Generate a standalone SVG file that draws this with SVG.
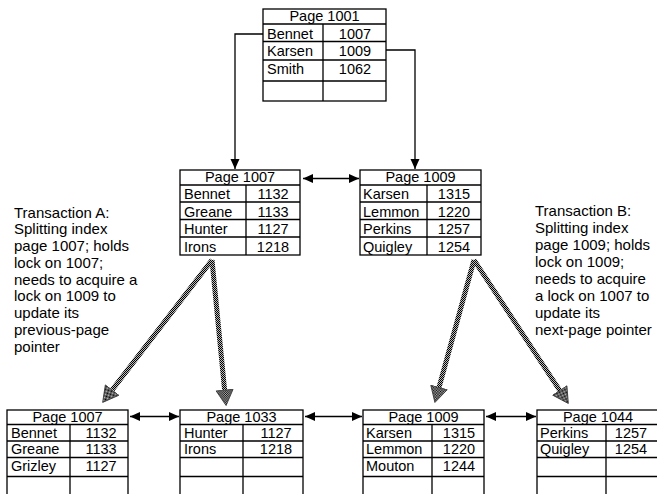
<svg xmlns="http://www.w3.org/2000/svg" width="657" height="494" viewBox="0 0 657 494">
<style>
.t{font-family:"Liberation Sans",Arial,sans-serif;font-size:14.5px;fill:#000}
.c{text-anchor:middle}
.n{font-family:"Liberation Sans",Arial,sans-serif;font-size:15px;fill:#000}
.box{fill:#fff;stroke:#000;stroke-width:1.3}
.ln{stroke:#000;stroke-width:1.3;fill:none}
.thin{stroke:#000;stroke-width:1.3;fill:none;marker-end:url(#ah)}
.dbl{stroke:#000;stroke-width:1.3;fill:none;marker-start:url(#ah);marker-end:url(#ah)}
.fat{stroke:url(#hatch);stroke-width:5;fill:none;marker-end:url(#fh)}
</style>
<defs>
<pattern id="hatch" width="2" height="2" patternUnits="userSpaceOnUse">
<rect width="2" height="2" fill="#bbb"/>
<rect width="1" height="1" fill="#000"/>
<rect x="1" y="1" width="1" height="1" fill="#000"/>
</pattern>
<marker id="ah" markerUnits="userSpaceOnUse" markerWidth="13" markerHeight="11" viewBox="0 -5.5 11 11" refX="10" refY="0" orient="auto-start-reverse">
<path d="M0,-4.5 L10,0 L0,4.5 Z" fill="#000"/>
</marker>
<marker id="fh" markerUnits="userSpaceOnUse" markerWidth="18" markerHeight="20" viewBox="0 -10 17 20" refX="0" refY="0" orient="auto">
<path d="M0,-8.5 L15.5,0 L0,8.5 Z" fill="url(#hatch)" stroke="#333" stroke-width="0.8"/>
</marker>
</defs>
<rect width="657" height="494" fill="#fff"/>

<g id="connectors">
<path class="thin" d="M263,34 H235 V169"/>
<path class="thin" d="M386,50 H415 V169"/>
<path class="dbl" d="M303,178.5 H359"/>
<path class="dbl" d="M130,416.5 H179"/>
<path class="dbl" d="M305,416.5 H362"/>
<path class="dbl" d="M486,416.5 H536"/>
<path class="fat" d="M212,260 L112.1,390.1"/>
<path class="fat" d="M212,260 L224.6,390.1"/>
<path class="fat" d="M474,260 L439,387.5"/>
<path class="fat" d="M474,260 L559.8,390.5"/>
</g>

<g id="page1001">
<rect class="box" x="263" y="9" width="123" height="92"/>
<path class="ln" d="M263,24 H386 M263,41.5 H386 M263,60 H386 M263,81 H386 M323,24 V101"/>
<text class="t c" x="324.5" y="21">Page 1001</text>
<text class="t" x="267" y="38.5">Bennet</text><text class="t c" x="355" y="38.5">1007</text>
<text class="t" x="267" y="56">Karsen</text><text class="t c" x="355" y="56">1009</text>
<text class="t" x="267" y="73.5">Smith</text><text class="t c" x="355" y="73.5">1062</text>
</g>

<g id="page1007-mid">
<rect class="box" x="180" y="170" width="120" height="85"/>
<path class="ln" d="M180,185 H300 M180,202 H300 M180,219.5 H300 M180,237 H300 M246,185 V255"/>
<text class="t c" x="240" y="182">Page 1007</text>
<text class="t" x="184" y="199">Bennet</text><text class="t c" x="273" y="199">1132</text>
<text class="t" x="184" y="216.5">Greane</text><text class="t c" x="273" y="216.5">1133</text>
<text class="t" x="184" y="234">Hunter</text><text class="t c" x="273" y="234">1127</text>
<text class="t" x="184" y="252">Irons</text><text class="t c" x="273" y="252">1218</text>
</g>

<g id="page1009-mid">
<rect class="box" x="360" y="170" width="121" height="85"/>
<path class="ln" d="M360,185 H481 M360,202 H481 M360,219.5 H481 M360,237 H481 M427,185 V255"/>
<text class="t c" x="420.5" y="182">Page 1009</text>
<text class="t" x="363" y="199">Karsen</text><text class="t c" x="454" y="199">1315</text>
<text class="t" x="363" y="216.5">Lemmon</text><text class="t c" x="454" y="216.5">1220</text>
<text class="t" x="363" y="234">Perkins</text><text class="t c" x="454" y="234">1257</text>
<text class="t" x="363" y="252">Quigley</text><text class="t c" x="454" y="252">1254</text>
</g>

<g id="noteA">
<text class="n" x="14" y="217.5">Transaction A:</text>
<text class="n" x="14" y="234.25">Splitting index</text>
<text class="n" x="14" y="251">page 1007; holds</text>
<text class="n" x="14" y="267.75">lock on 1007;</text>
<text class="n" x="14" y="284.5">needs to acquire a</text>
<text class="n" x="14" y="301.25">lock on 1009 to</text>
<text class="n" x="14" y="318">update its</text>
<text class="n" x="14" y="334.75">previous-page</text>
<text class="n" x="14" y="351.5">pointer</text>
</g>

<g id="noteB">
<text class="n" x="535" y="215.5">Transaction B:</text>
<text class="n" x="535" y="232.5">Splitting index</text>
<text class="n" x="535" y="249.5">page 1009; holds</text>
<text class="n" x="535" y="266.5">lock on 1009;</text>
<text class="n" x="535" y="283.5">needs to acquire</text>
<text class="n" x="535" y="300.5">a lock on 1007 to</text>
<text class="n" x="535" y="317.5">update its</text>
<text class="n" x="535" y="334.5">next-page pointer</text>
</g>

<g id="page1007-new">
<rect class="box" x="7" y="410" width="121" height="92"/>
<path class="ln" d="M7,424.5 H128 M7,441 H128 M7,457.5 H128 M7,476.5 H128 M70,424.5 V502"/>
<text class="t c" x="67.5" y="421.5">Page 1007</text>
<text class="t" x="11" y="438">Bennet</text><text class="t c" x="101" y="438">1132</text>
<text class="t" x="11" y="454">Greane</text><text class="t c" x="101" y="454">1133</text>
<text class="t" x="11" y="471">Grizley</text><text class="t c" x="101" y="471">1127</text>
</g>

<g id="page1033">
<rect class="box" x="180" y="410" width="123" height="92"/>
<path class="ln" d="M180,424.5 H303 M180,441 H303 M180,457.5 H303 M180,476.5 H303 M243,424.5 V502"/>
<text class="t c" x="241.5" y="421.5">Page 1033</text>
<text class="t" x="184" y="438">Hunter</text><text class="t c" x="276" y="438">1127</text>
<text class="t" x="184" y="454">Irons</text><text class="t c" x="276" y="454">1218</text>
</g>

<g id="page1009-new">
<rect class="box" x="363" y="410" width="121" height="92"/>
<path class="ln" d="M363,424.5 H484 M363,441 H484 M363,457.5 H484 M363,476.5 H484 M432,424.5 V502"/>
<text class="t c" x="423.5" y="421.5">Page 1009</text>
<text class="t" x="366" y="438">Karsen</text><text class="t c" x="459" y="438">1315</text>
<text class="t" x="366" y="454">Lemmon</text><text class="t c" x="459" y="454">1220</text>
<text class="t" x="366" y="471">Mouton</text><text class="t c" x="459" y="471">1244</text>
</g>

<g id="page1044">
<rect class="box" x="537" y="410" width="122" height="92"/>
<path class="ln" d="M537,424.5 H659 M537,441 H659 M537,457.5 H659 M537,476.5 H659 M606,424.5 V502"/>
<text class="t c" x="598" y="421.5">Page 1044</text>
<text class="t" x="540" y="438">Perkins</text><text class="t c" x="631" y="438">1257</text>
<text class="t" x="540" y="454">Quigley</text><text class="t c" x="631" y="454">1254</text>
</g>
</svg>
